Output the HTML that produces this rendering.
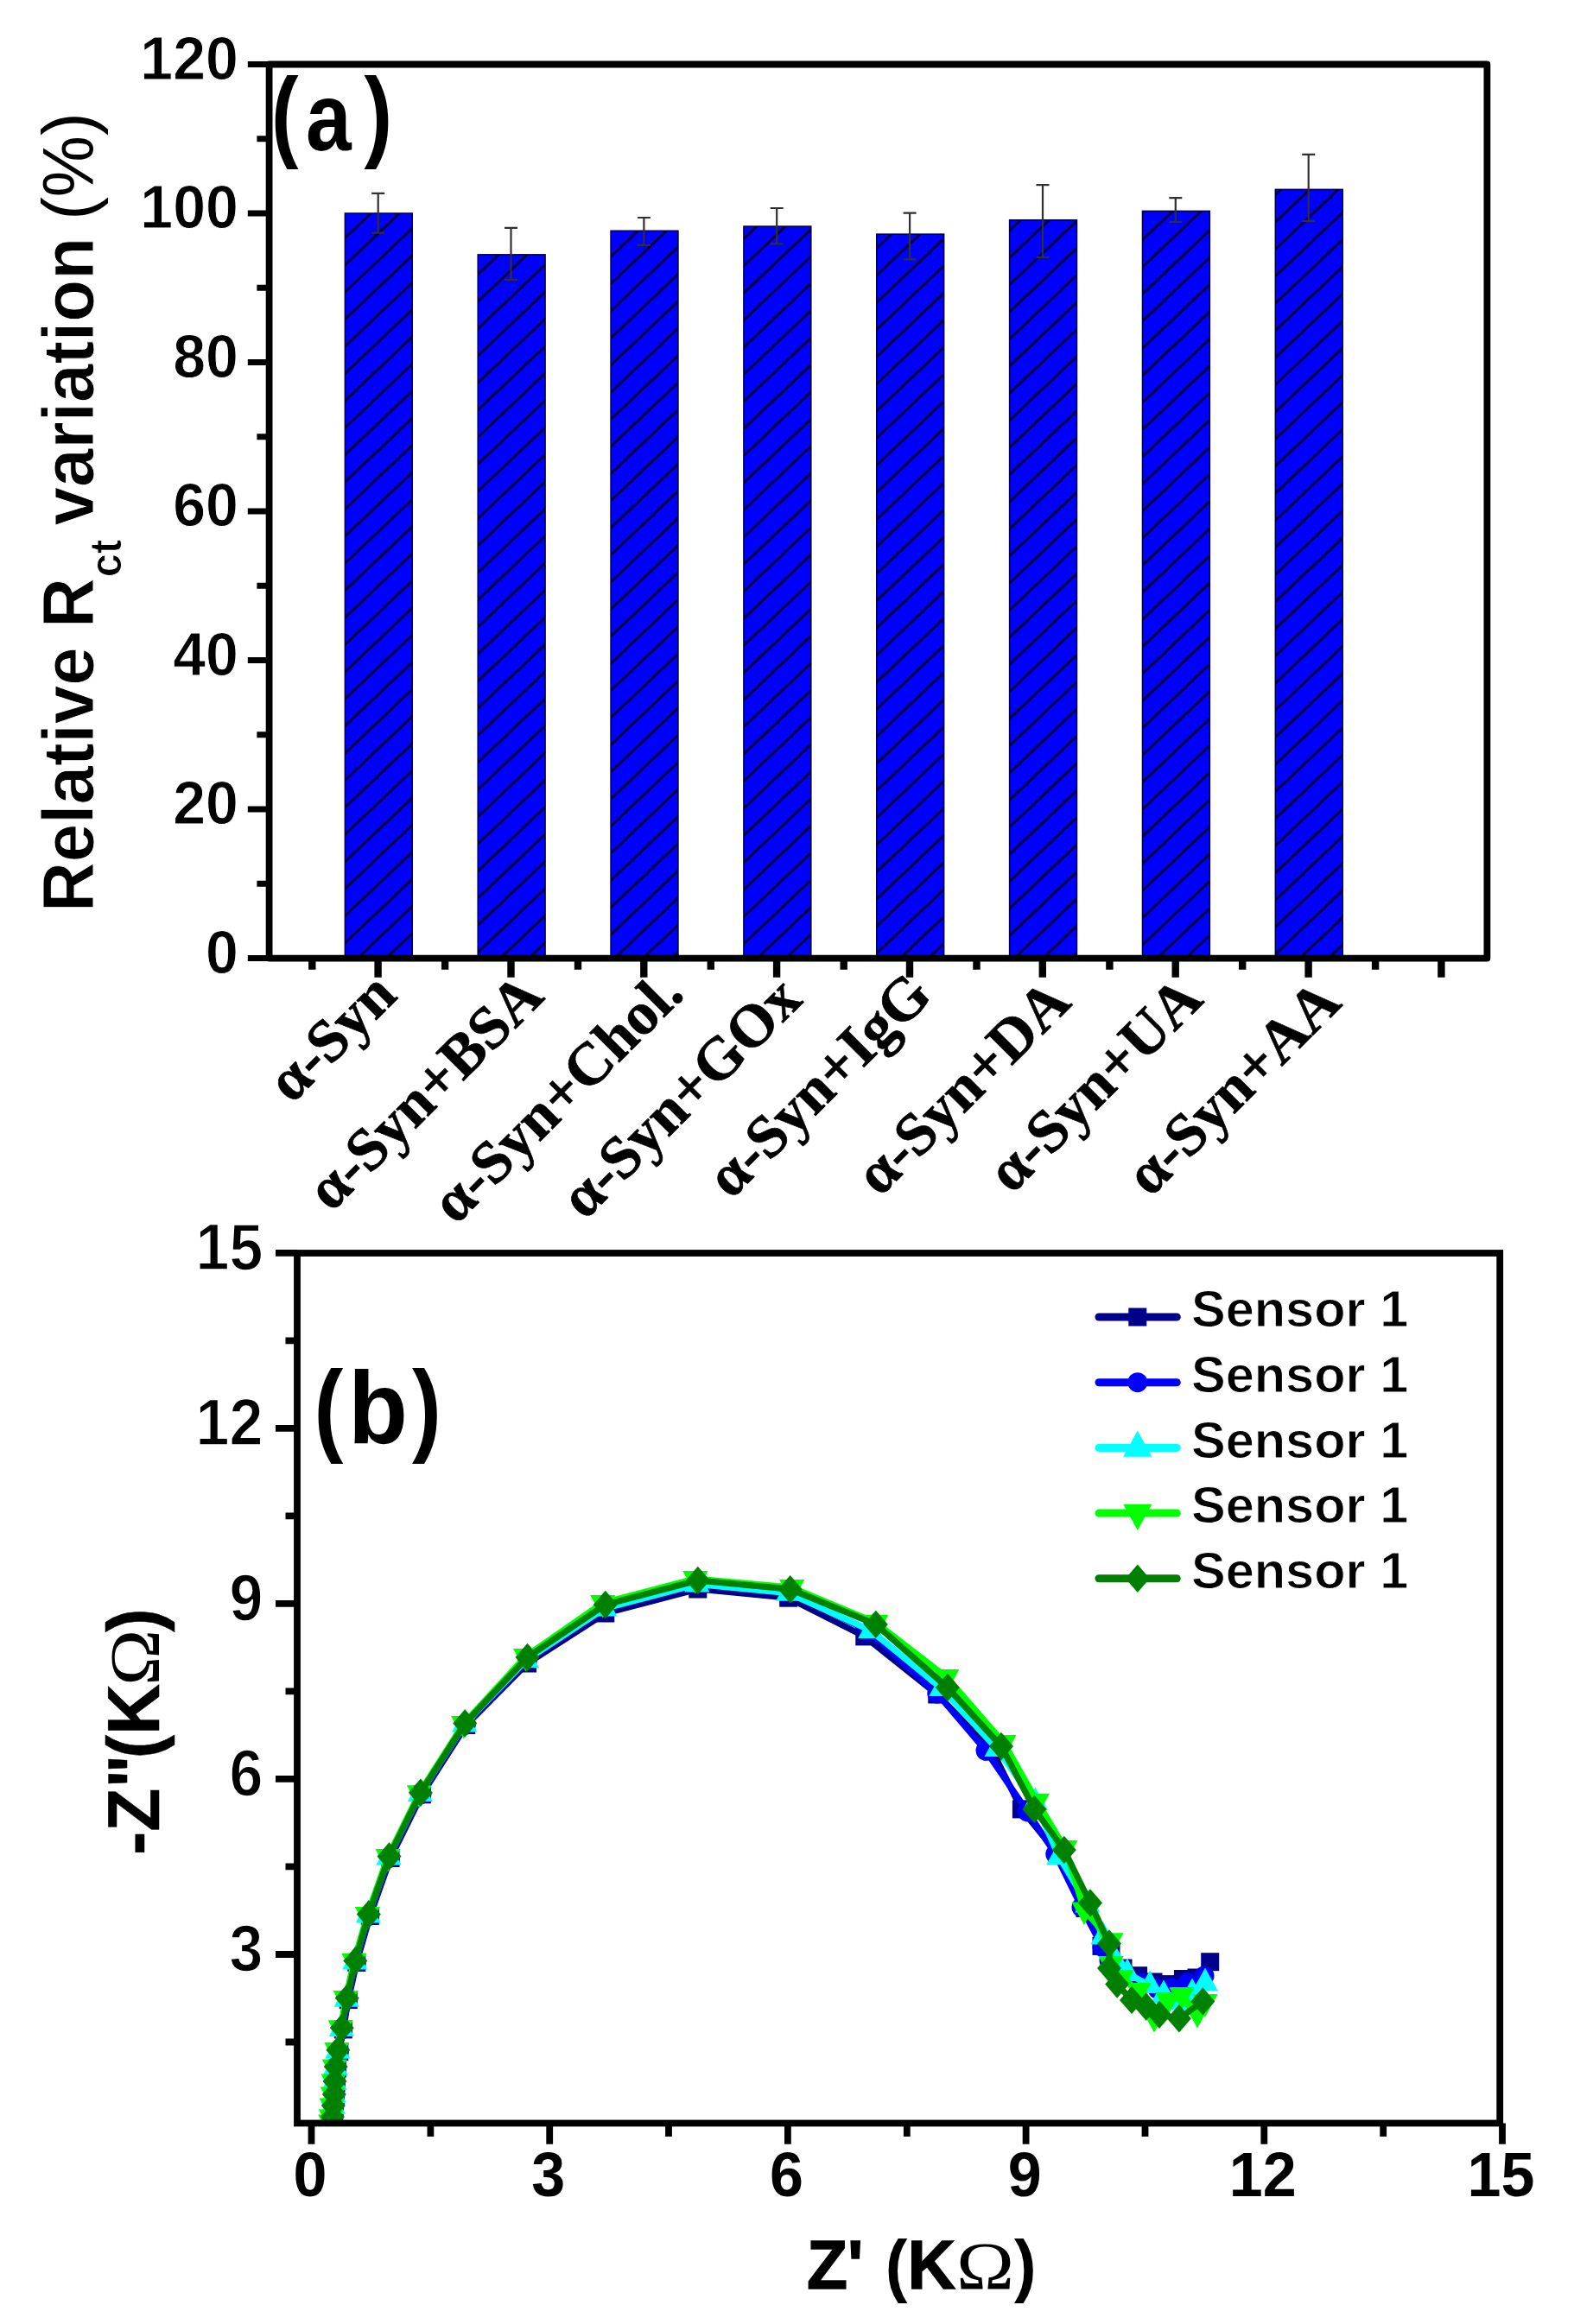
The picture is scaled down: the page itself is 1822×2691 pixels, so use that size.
<!DOCTYPE html>
<html lang="en">
<head>
<meta charset="utf-8">
<title>Figure</title>
<style>
html,body{margin:0;padding:0;background:#fff;}
body{width:1822px;height:2691px;overflow:hidden;}
svg{display:block;}
text{fill:#000;}
</style>
</head>
<body>
<svg width="1822" height="2691" viewBox="0 0 1822 2691">
<rect width="1822" height="2691" fill="#fff"/>
<g id="chartA">
<defs>
<clipPath id="cb0"><rect x="399.40" y="247.02" width="77.80" height="862.58"/></clipPath>
<clipPath id="cb1"><rect x="553.25" y="294.89" width="77.80" height="814.71"/></clipPath>
<clipPath id="cb2"><rect x="707.10" y="267.29" width="77.80" height="842.31"/></clipPath>
<clipPath id="cb3"><rect x="860.95" y="262.11" width="77.80" height="847.49"/></clipPath>
<clipPath id="cb4"><rect x="1014.80" y="271.17" width="77.80" height="838.43"/></clipPath>
<clipPath id="cb5"><rect x="1168.65" y="254.78" width="77.80" height="854.82"/></clipPath>
<clipPath id="cb6"><rect x="1322.50" y="244.43" width="77.80" height="865.17"/></clipPath>
<clipPath id="cb7"><rect x="1476.35" y="219.41" width="77.80" height="890.19"/></clipPath>
</defs>
<rect x="399.40" y="247.02" width="77.80" height="862.58" fill="#0000ff"/>
<g clip-path="url(#cb0)" stroke="#00003c" stroke-width="3" fill="none">
<path d="M394.4 217.3L482.2 133.9"/>
<path d="M394.4 248.7L482.2 165.3"/>
<path d="M394.4 280.1L482.2 196.7"/>
<path d="M394.4 311.5L482.2 228.1"/>
<path d="M394.4 342.9L482.2 259.5"/>
<path d="M394.4 374.3L482.2 290.9"/>
<path d="M394.4 405.7L482.2 322.3"/>
<path d="M394.4 437.1L482.2 353.7"/>
<path d="M394.4 468.5L482.2 385.1"/>
<path d="M394.4 499.9L482.2 416.5"/>
<path d="M394.4 531.3L482.2 447.9"/>
<path d="M394.4 562.7L482.2 479.3"/>
<path d="M394.4 594.1L482.2 510.7"/>
<path d="M394.4 625.5L482.2 542.1"/>
<path d="M394.4 656.9L482.2 573.5"/>
<path d="M394.4 688.3L482.2 604.9"/>
<path d="M394.4 719.7L482.2 636.3"/>
<path d="M394.4 751.1L482.2 667.7"/>
<path d="M394.4 782.5L482.2 699.1"/>
<path d="M394.4 813.9L482.2 730.5"/>
<path d="M394.4 845.3L482.2 761.9"/>
<path d="M394.4 876.7L482.2 793.3"/>
<path d="M394.4 908.1L482.2 824.7"/>
<path d="M394.4 939.5L482.2 856.1"/>
<path d="M394.4 970.9L482.2 887.5"/>
<path d="M394.4 1002.3L482.2 918.9"/>
<path d="M394.4 1033.7L482.2 950.3"/>
<path d="M394.4 1065.1L482.2 981.7"/>
<path d="M394.4 1096.5L482.2 1013.1"/>
<path d="M394.4 1127.9L482.2 1044.5"/>
<path d="M394.4 1159.3L482.2 1075.9"/>
<path d="M394.4 1190.7L482.2 1107.3"/>
<path d="M394.4 1222.1L482.2 1138.7"/>
</g>
<rect x="399.40" y="247.02" width="77.80" height="862.58" fill="none" stroke="#000048" stroke-width="1.6"/>
<rect x="553.25" y="294.89" width="77.80" height="814.71" fill="#0000ff"/>
<g clip-path="url(#cb1)" stroke="#00003c" stroke-width="3" fill="none">
<path d="M548.2 102.6L636.0 19.1"/>
<path d="M548.2 134.0L636.0 50.5"/>
<path d="M548.2 165.4L636.0 81.9"/>
<path d="M548.2 196.8L636.0 113.3"/>
<path d="M548.2 228.2L636.0 144.7"/>
<path d="M548.2 259.6L636.0 176.1"/>
<path d="M548.2 291.0L636.0 207.5"/>
<path d="M548.2 322.4L636.0 238.9"/>
<path d="M548.2 353.8L636.0 270.3"/>
<path d="M548.2 385.2L636.0 301.7"/>
<path d="M548.2 416.6L636.0 333.1"/>
<path d="M548.2 448.0L636.0 364.5"/>
<path d="M548.2 479.4L636.0 395.9"/>
<path d="M548.2 510.8L636.0 427.3"/>
<path d="M548.2 542.2L636.0 458.7"/>
<path d="M548.2 573.6L636.0 490.1"/>
<path d="M548.2 605.0L636.0 521.5"/>
<path d="M548.2 636.4L636.0 552.9"/>
<path d="M548.2 667.8L636.0 584.3"/>
<path d="M548.2 699.2L636.0 615.7"/>
<path d="M548.2 730.6L636.0 647.1"/>
<path d="M548.2 762.0L636.0 678.5"/>
<path d="M548.2 793.4L636.0 709.9"/>
<path d="M548.2 824.8L636.0 741.3"/>
<path d="M548.2 856.2L636.0 772.7"/>
<path d="M548.2 887.6L636.0 804.1"/>
<path d="M548.2 919.0L636.0 835.5"/>
<path d="M548.2 950.4L636.0 866.9"/>
<path d="M548.2 981.8L636.0 898.3"/>
<path d="M548.2 1013.2L636.0 929.7"/>
<path d="M548.2 1044.6L636.0 961.1"/>
<path d="M548.2 1076.0L636.0 992.5"/>
<path d="M548.2 1107.4L636.0 1023.9"/>
<path d="M548.2 1138.8L636.0 1055.3"/>
<path d="M548.2 1170.2L636.0 1086.7"/>
<path d="M548.2 1201.6L636.0 1118.1"/>
<path d="M548.2 1233.0L636.0 1149.5"/>
</g>
<rect x="553.25" y="294.89" width="77.80" height="814.71" fill="none" stroke="#000048" stroke-width="1.6"/>
<rect x="707.10" y="267.29" width="77.80" height="842.31" fill="#0000ff"/>
<g clip-path="url(#cb2)" stroke="#00003c" stroke-width="3" fill="none">
<path d="M702.1 -75.0L789.9 -158.4"/>
<path d="M702.1 -43.6L789.9 -127.0"/>
<path d="M702.1 -12.2L789.9 -95.6"/>
<path d="M702.1 19.2L789.9 -64.2"/>
<path d="M702.1 50.6L789.9 -32.8"/>
<path d="M702.1 82.0L789.9 -1.4"/>
<path d="M702.1 113.4L789.9 30.0"/>
<path d="M702.1 144.8L789.9 61.4"/>
<path d="M702.1 176.2L789.9 92.8"/>
<path d="M702.1 207.6L789.9 124.2"/>
<path d="M702.1 239.0L789.9 155.6"/>
<path d="M702.1 270.4L789.9 187.0"/>
<path d="M702.1 301.8L789.9 218.4"/>
<path d="M702.1 333.2L789.9 249.8"/>
<path d="M702.1 364.6L789.9 281.2"/>
<path d="M702.1 396.0L789.9 312.6"/>
<path d="M702.1 427.4L789.9 344.0"/>
<path d="M702.1 458.8L789.9 375.4"/>
<path d="M702.1 490.2L789.9 406.8"/>
<path d="M702.1 521.6L789.9 438.2"/>
<path d="M702.1 553.0L789.9 469.6"/>
<path d="M702.1 584.4L789.9 501.0"/>
<path d="M702.1 615.8L789.9 532.4"/>
<path d="M702.1 647.2L789.9 563.8"/>
<path d="M702.1 678.6L789.9 595.2"/>
<path d="M702.1 710.0L789.9 626.6"/>
<path d="M702.1 741.4L789.9 658.0"/>
<path d="M702.1 772.8L789.9 689.4"/>
<path d="M702.1 804.2L789.9 720.8"/>
<path d="M702.1 835.6L789.9 752.2"/>
<path d="M702.1 867.0L789.9 783.6"/>
<path d="M702.1 898.4L789.9 815.0"/>
<path d="M702.1 929.8L789.9 846.4"/>
<path d="M702.1 961.2L789.9 877.8"/>
<path d="M702.1 992.6L789.9 909.2"/>
<path d="M702.1 1024.0L789.9 940.6"/>
<path d="M702.1 1055.4L789.9 972.0"/>
<path d="M702.1 1086.8L789.9 1003.4"/>
<path d="M702.1 1118.2L789.9 1034.8"/>
<path d="M702.1 1149.6L789.9 1066.2"/>
<path d="M702.1 1181.0L789.9 1097.6"/>
<path d="M702.1 1212.4L789.9 1129.0"/>
<path d="M702.1 1243.8L789.9 1160.4"/>
</g>
<rect x="707.10" y="267.29" width="77.80" height="842.31" fill="none" stroke="#000048" stroke-width="1.6"/>
<rect x="860.95" y="262.11" width="77.80" height="847.49" fill="#0000ff"/>
<g clip-path="url(#cb3)" stroke="#00003c" stroke-width="3" fill="none">
<path d="M855.9 -221.2L943.7 -304.6"/>
<path d="M855.9 -189.8L943.7 -273.2"/>
<path d="M855.9 -158.4L943.7 -241.8"/>
<path d="M855.9 -127.0L943.7 -210.4"/>
<path d="M855.9 -95.6L943.7 -179.0"/>
<path d="M855.9 -64.2L943.7 -147.6"/>
<path d="M855.9 -32.8L943.7 -116.2"/>
<path d="M855.9 -1.4L943.7 -84.8"/>
<path d="M855.9 30.0L943.7 -53.4"/>
<path d="M855.9 61.4L943.7 -22.0"/>
<path d="M855.9 92.8L943.7 9.4"/>
<path d="M855.9 124.2L943.7 40.8"/>
<path d="M855.9 155.6L943.7 72.2"/>
<path d="M855.9 187.0L943.7 103.6"/>
<path d="M855.9 218.4L943.7 135.0"/>
<path d="M855.9 249.8L943.7 166.4"/>
<path d="M855.9 281.2L943.7 197.8"/>
<path d="M855.9 312.6L943.7 229.2"/>
<path d="M855.9 344.0L943.7 260.6"/>
<path d="M855.9 375.4L943.7 292.0"/>
<path d="M855.9 406.8L943.7 323.4"/>
<path d="M855.9 438.2L943.7 354.8"/>
<path d="M855.9 469.6L943.7 386.2"/>
<path d="M855.9 501.0L943.7 417.6"/>
<path d="M855.9 532.4L943.7 449.0"/>
<path d="M855.9 563.8L943.7 480.4"/>
<path d="M855.9 595.2L943.7 511.8"/>
<path d="M855.9 626.6L943.7 543.2"/>
<path d="M855.9 658.0L943.7 574.6"/>
<path d="M855.9 689.4L943.7 606.0"/>
<path d="M855.9 720.8L943.7 637.4"/>
<path d="M855.9 752.2L943.7 668.8"/>
<path d="M855.9 783.6L943.7 700.2"/>
<path d="M855.9 815.0L943.7 731.6"/>
<path d="M855.9 846.4L943.7 763.0"/>
<path d="M855.9 877.8L943.7 794.4"/>
<path d="M855.9 909.2L943.7 825.8"/>
<path d="M855.9 940.6L943.7 857.2"/>
<path d="M855.9 972.0L943.7 888.6"/>
<path d="M855.9 1003.4L943.7 920.0"/>
<path d="M855.9 1034.8L943.7 951.4"/>
<path d="M855.9 1066.2L943.7 982.8"/>
<path d="M855.9 1097.6L943.7 1014.2"/>
<path d="M855.9 1129.0L943.7 1045.6"/>
<path d="M855.9 1160.4L943.7 1077.0"/>
<path d="M855.9 1191.8L943.7 1108.4"/>
<path d="M855.9 1223.2L943.7 1139.8"/>
</g>
<rect x="860.95" y="262.11" width="77.80" height="847.49" fill="none" stroke="#000048" stroke-width="1.6"/>
<rect x="1014.80" y="271.17" width="77.80" height="838.43" fill="#0000ff"/>
<g clip-path="url(#cb4)" stroke="#00003c" stroke-width="3" fill="none">
<path d="M1009.8 -367.3L1097.6 -450.7"/>
<path d="M1009.8 -335.9L1097.6 -419.3"/>
<path d="M1009.8 -304.5L1097.6 -387.9"/>
<path d="M1009.8 -273.1L1097.6 -356.5"/>
<path d="M1009.8 -241.7L1097.6 -325.1"/>
<path d="M1009.8 -210.3L1097.6 -293.7"/>
<path d="M1009.8 -178.9L1097.6 -262.3"/>
<path d="M1009.8 -147.5L1097.6 -230.9"/>
<path d="M1009.8 -116.1L1097.6 -199.5"/>
<path d="M1009.8 -84.7L1097.6 -168.1"/>
<path d="M1009.8 -53.3L1097.6 -136.7"/>
<path d="M1009.8 -21.9L1097.6 -105.3"/>
<path d="M1009.8 9.5L1097.6 -73.9"/>
<path d="M1009.8 40.9L1097.6 -42.5"/>
<path d="M1009.8 72.3L1097.6 -11.1"/>
<path d="M1009.8 103.7L1097.6 20.3"/>
<path d="M1009.8 135.1L1097.6 51.7"/>
<path d="M1009.8 166.5L1097.6 83.1"/>
<path d="M1009.8 197.9L1097.6 114.5"/>
<path d="M1009.8 229.3L1097.6 145.9"/>
<path d="M1009.8 260.7L1097.6 177.3"/>
<path d="M1009.8 292.1L1097.6 208.7"/>
<path d="M1009.8 323.5L1097.6 240.1"/>
<path d="M1009.8 354.9L1097.6 271.5"/>
<path d="M1009.8 386.3L1097.6 302.9"/>
<path d="M1009.8 417.7L1097.6 334.3"/>
<path d="M1009.8 449.1L1097.6 365.7"/>
<path d="M1009.8 480.5L1097.6 397.1"/>
<path d="M1009.8 511.9L1097.6 428.5"/>
<path d="M1009.8 543.3L1097.6 459.9"/>
<path d="M1009.8 574.7L1097.6 491.3"/>
<path d="M1009.8 606.1L1097.6 522.7"/>
<path d="M1009.8 637.5L1097.6 554.1"/>
<path d="M1009.8 668.9L1097.6 585.5"/>
<path d="M1009.8 700.3L1097.6 616.9"/>
<path d="M1009.8 731.7L1097.6 648.3"/>
<path d="M1009.8 763.1L1097.6 679.7"/>
<path d="M1009.8 794.5L1097.6 711.1"/>
<path d="M1009.8 825.9L1097.6 742.5"/>
<path d="M1009.8 857.3L1097.6 773.9"/>
<path d="M1009.8 888.7L1097.6 805.3"/>
<path d="M1009.8 920.1L1097.6 836.7"/>
<path d="M1009.8 951.5L1097.6 868.1"/>
<path d="M1009.8 982.9L1097.6 899.5"/>
<path d="M1009.8 1014.3L1097.6 930.9"/>
<path d="M1009.8 1045.7L1097.6 962.3"/>
<path d="M1009.8 1077.1L1097.6 993.7"/>
<path d="M1009.8 1108.5L1097.6 1025.1"/>
<path d="M1009.8 1139.9L1097.6 1056.5"/>
<path d="M1009.8 1171.3L1097.6 1087.9"/>
<path d="M1009.8 1202.7L1097.6 1119.3"/>
<path d="M1009.8 1234.1L1097.6 1150.7"/>
</g>
<rect x="1014.80" y="271.17" width="77.80" height="838.43" fill="none" stroke="#000048" stroke-width="1.6"/>
<rect x="1168.65" y="254.78" width="77.80" height="854.82" fill="#0000ff"/>
<g clip-path="url(#cb5)" stroke="#00003c" stroke-width="3" fill="none">
<path d="M1163.7 -513.5L1251.5 -596.9"/>
<path d="M1163.7 -482.1L1251.5 -565.5"/>
<path d="M1163.7 -450.7L1251.5 -534.1"/>
<path d="M1163.7 -419.3L1251.5 -502.7"/>
<path d="M1163.7 -387.9L1251.5 -471.3"/>
<path d="M1163.7 -356.5L1251.5 -439.9"/>
<path d="M1163.7 -325.1L1251.5 -408.5"/>
<path d="M1163.7 -293.7L1251.5 -377.1"/>
<path d="M1163.7 -262.3L1251.5 -345.7"/>
<path d="M1163.7 -230.9L1251.5 -314.3"/>
<path d="M1163.7 -199.5L1251.5 -282.9"/>
<path d="M1163.7 -168.1L1251.5 -251.5"/>
<path d="M1163.7 -136.7L1251.5 -220.1"/>
<path d="M1163.7 -105.3L1251.5 -188.7"/>
<path d="M1163.7 -73.9L1251.5 -157.3"/>
<path d="M1163.7 -42.5L1251.5 -125.9"/>
<path d="M1163.7 -11.1L1251.5 -94.5"/>
<path d="M1163.7 20.3L1251.5 -63.1"/>
<path d="M1163.7 51.7L1251.5 -31.7"/>
<path d="M1163.7 83.1L1251.5 -0.3"/>
<path d="M1163.7 114.5L1251.5 31.1"/>
<path d="M1163.7 145.9L1251.5 62.5"/>
<path d="M1163.7 177.3L1251.5 93.9"/>
<path d="M1163.7 208.7L1251.5 125.3"/>
<path d="M1163.7 240.1L1251.5 156.7"/>
<path d="M1163.7 271.5L1251.5 188.1"/>
<path d="M1163.7 302.9L1251.5 219.5"/>
<path d="M1163.7 334.3L1251.5 250.9"/>
<path d="M1163.7 365.7L1251.5 282.3"/>
<path d="M1163.7 397.1L1251.5 313.7"/>
<path d="M1163.7 428.5L1251.5 345.1"/>
<path d="M1163.7 459.9L1251.5 376.5"/>
<path d="M1163.7 491.3L1251.5 407.9"/>
<path d="M1163.7 522.7L1251.5 439.3"/>
<path d="M1163.7 554.1L1251.5 470.7"/>
<path d="M1163.7 585.5L1251.5 502.1"/>
<path d="M1163.7 616.9L1251.5 533.5"/>
<path d="M1163.7 648.3L1251.5 564.9"/>
<path d="M1163.7 679.7L1251.5 596.3"/>
<path d="M1163.7 711.1L1251.5 627.7"/>
<path d="M1163.7 742.5L1251.5 659.1"/>
<path d="M1163.7 773.9L1251.5 690.5"/>
<path d="M1163.7 805.3L1251.5 721.9"/>
<path d="M1163.7 836.7L1251.5 753.3"/>
<path d="M1163.7 868.1L1251.5 784.7"/>
<path d="M1163.7 899.5L1251.5 816.1"/>
<path d="M1163.7 930.9L1251.5 847.5"/>
<path d="M1163.7 962.3L1251.5 878.9"/>
<path d="M1163.7 993.7L1251.5 910.3"/>
<path d="M1163.7 1025.1L1251.5 941.7"/>
<path d="M1163.7 1056.5L1251.5 973.1"/>
<path d="M1163.7 1087.9L1251.5 1004.5"/>
<path d="M1163.7 1119.3L1251.5 1035.9"/>
<path d="M1163.7 1150.7L1251.5 1067.3"/>
<path d="M1163.7 1182.1L1251.5 1098.7"/>
<path d="M1163.7 1213.5L1251.5 1130.1"/>
<path d="M1163.7 1244.9L1251.5 1161.5"/>
</g>
<rect x="1168.65" y="254.78" width="77.80" height="854.82" fill="none" stroke="#000048" stroke-width="1.6"/>
<rect x="1322.50" y="244.43" width="77.80" height="865.17" fill="#0000ff"/>
<g clip-path="url(#cb6)" stroke="#00003c" stroke-width="3" fill="none">
<path d="M1317.5 -691.0L1405.3 -774.4"/>
<path d="M1317.5 -659.6L1405.3 -743.0"/>
<path d="M1317.5 -628.2L1405.3 -711.6"/>
<path d="M1317.5 -596.8L1405.3 -680.2"/>
<path d="M1317.5 -565.4L1405.3 -648.8"/>
<path d="M1317.5 -534.0L1405.3 -617.4"/>
<path d="M1317.5 -502.6L1405.3 -586.0"/>
<path d="M1317.5 -471.2L1405.3 -554.6"/>
<path d="M1317.5 -439.8L1405.3 -523.2"/>
<path d="M1317.5 -408.4L1405.3 -491.8"/>
<path d="M1317.5 -377.0L1405.3 -460.4"/>
<path d="M1317.5 -345.6L1405.3 -429.0"/>
<path d="M1317.5 -314.2L1405.3 -397.6"/>
<path d="M1317.5 -282.8L1405.3 -366.2"/>
<path d="M1317.5 -251.4L1405.3 -334.8"/>
<path d="M1317.5 -220.0L1405.3 -303.4"/>
<path d="M1317.5 -188.6L1405.3 -272.0"/>
<path d="M1317.5 -157.2L1405.3 -240.6"/>
<path d="M1317.5 -125.8L1405.3 -209.2"/>
<path d="M1317.5 -94.4L1405.3 -177.8"/>
<path d="M1317.5 -63.0L1405.3 -146.4"/>
<path d="M1317.5 -31.6L1405.3 -115.0"/>
<path d="M1317.5 -0.2L1405.3 -83.6"/>
<path d="M1317.5 31.2L1405.3 -52.2"/>
<path d="M1317.5 62.6L1405.3 -20.8"/>
<path d="M1317.5 94.0L1405.3 10.6"/>
<path d="M1317.5 125.4L1405.3 42.0"/>
<path d="M1317.5 156.8L1405.3 73.4"/>
<path d="M1317.5 188.2L1405.3 104.8"/>
<path d="M1317.5 219.6L1405.3 136.2"/>
<path d="M1317.5 251.0L1405.3 167.6"/>
<path d="M1317.5 282.4L1405.3 199.0"/>
<path d="M1317.5 313.8L1405.3 230.4"/>
<path d="M1317.5 345.2L1405.3 261.8"/>
<path d="M1317.5 376.6L1405.3 293.2"/>
<path d="M1317.5 408.0L1405.3 324.6"/>
<path d="M1317.5 439.4L1405.3 356.0"/>
<path d="M1317.5 470.8L1405.3 387.4"/>
<path d="M1317.5 502.2L1405.3 418.8"/>
<path d="M1317.5 533.6L1405.3 450.2"/>
<path d="M1317.5 565.0L1405.3 481.6"/>
<path d="M1317.5 596.4L1405.3 513.0"/>
<path d="M1317.5 627.8L1405.3 544.4"/>
<path d="M1317.5 659.2L1405.3 575.8"/>
<path d="M1317.5 690.6L1405.3 607.2"/>
<path d="M1317.5 722.0L1405.3 638.6"/>
<path d="M1317.5 753.4L1405.3 670.0"/>
<path d="M1317.5 784.8L1405.3 701.4"/>
<path d="M1317.5 816.2L1405.3 732.8"/>
<path d="M1317.5 847.6L1405.3 764.2"/>
<path d="M1317.5 879.0L1405.3 795.6"/>
<path d="M1317.5 910.4L1405.3 827.0"/>
<path d="M1317.5 941.8L1405.3 858.4"/>
<path d="M1317.5 973.2L1405.3 889.8"/>
<path d="M1317.5 1004.6L1405.3 921.2"/>
<path d="M1317.5 1036.0L1405.3 952.6"/>
<path d="M1317.5 1067.4L1405.3 984.0"/>
<path d="M1317.5 1098.8L1405.3 1015.4"/>
<path d="M1317.5 1130.2L1405.3 1046.8"/>
<path d="M1317.5 1161.6L1405.3 1078.2"/>
<path d="M1317.5 1193.0L1405.3 1109.6"/>
<path d="M1317.5 1224.4L1405.3 1141.0"/>
</g>
<rect x="1322.50" y="244.43" width="77.80" height="865.17" fill="none" stroke="#000048" stroke-width="1.6"/>
<rect x="1476.35" y="219.41" width="77.80" height="890.19" fill="#0000ff"/>
<g clip-path="url(#cb7)" stroke="#00003c" stroke-width="3" fill="none">
<path d="M1471.3 -837.2L1559.1 -920.6"/>
<path d="M1471.3 -805.8L1559.1 -889.2"/>
<path d="M1471.3 -774.4L1559.1 -857.8"/>
<path d="M1471.3 -743.0L1559.1 -826.4"/>
<path d="M1471.3 -711.6L1559.1 -795.0"/>
<path d="M1471.3 -680.2L1559.1 -763.6"/>
<path d="M1471.3 -648.8L1559.1 -732.2"/>
<path d="M1471.3 -617.4L1559.1 -700.8"/>
<path d="M1471.3 -586.0L1559.1 -669.4"/>
<path d="M1471.3 -554.6L1559.1 -638.0"/>
<path d="M1471.3 -523.2L1559.1 -606.6"/>
<path d="M1471.3 -491.8L1559.1 -575.2"/>
<path d="M1471.3 -460.4L1559.1 -543.8"/>
<path d="M1471.3 -429.0L1559.1 -512.4"/>
<path d="M1471.3 -397.6L1559.1 -481.0"/>
<path d="M1471.3 -366.2L1559.1 -449.6"/>
<path d="M1471.3 -334.8L1559.1 -418.2"/>
<path d="M1471.3 -303.4L1559.1 -386.8"/>
<path d="M1471.3 -272.0L1559.1 -355.4"/>
<path d="M1471.3 -240.6L1559.1 -324.0"/>
<path d="M1471.3 -209.2L1559.1 -292.6"/>
<path d="M1471.3 -177.8L1559.1 -261.2"/>
<path d="M1471.3 -146.4L1559.1 -229.8"/>
<path d="M1471.3 -115.0L1559.1 -198.4"/>
<path d="M1471.3 -83.6L1559.1 -167.0"/>
<path d="M1471.3 -52.2L1559.1 -135.6"/>
<path d="M1471.3 -20.8L1559.1 -104.2"/>
<path d="M1471.3 10.6L1559.1 -72.8"/>
<path d="M1471.3 42.0L1559.1 -41.4"/>
<path d="M1471.3 73.4L1559.1 -10.0"/>
<path d="M1471.3 104.8L1559.1 21.4"/>
<path d="M1471.3 136.2L1559.1 52.8"/>
<path d="M1471.3 167.6L1559.1 84.2"/>
<path d="M1471.3 199.0L1559.1 115.6"/>
<path d="M1471.3 230.4L1559.1 147.0"/>
<path d="M1471.3 261.8L1559.1 178.4"/>
<path d="M1471.3 293.2L1559.1 209.8"/>
<path d="M1471.3 324.6L1559.1 241.2"/>
<path d="M1471.3 356.0L1559.1 272.6"/>
<path d="M1471.3 387.4L1559.1 304.0"/>
<path d="M1471.3 418.8L1559.1 335.4"/>
<path d="M1471.3 450.2L1559.1 366.8"/>
<path d="M1471.3 481.6L1559.1 398.2"/>
<path d="M1471.3 513.0L1559.1 429.6"/>
<path d="M1471.3 544.4L1559.1 461.0"/>
<path d="M1471.3 575.8L1559.1 492.4"/>
<path d="M1471.3 607.2L1559.1 523.8"/>
<path d="M1471.3 638.6L1559.1 555.2"/>
<path d="M1471.3 670.0L1559.1 586.6"/>
<path d="M1471.3 701.4L1559.1 618.0"/>
<path d="M1471.3 732.8L1559.1 649.4"/>
<path d="M1471.3 764.2L1559.1 680.8"/>
<path d="M1471.3 795.6L1559.1 712.2"/>
<path d="M1471.3 827.0L1559.1 743.6"/>
<path d="M1471.3 858.4L1559.1 775.0"/>
<path d="M1471.3 889.8L1559.1 806.4"/>
<path d="M1471.3 921.2L1559.1 837.8"/>
<path d="M1471.3 952.6L1559.1 869.2"/>
<path d="M1471.3 984.0L1559.1 900.6"/>
<path d="M1471.3 1015.4L1559.1 932.0"/>
<path d="M1471.3 1046.8L1559.1 963.4"/>
<path d="M1471.3 1078.2L1559.1 994.8"/>
<path d="M1471.3 1109.6L1559.1 1026.2"/>
<path d="M1471.3 1141.0L1559.1 1057.6"/>
<path d="M1471.3 1172.4L1559.1 1089.0"/>
<path d="M1471.3 1203.8L1559.1 1120.4"/>
<path d="M1471.3 1235.2L1559.1 1151.8"/>
</g>
<rect x="1476.35" y="219.41" width="77.80" height="890.19" fill="none" stroke="#000048" stroke-width="1.6"/>
<path d="M437.7 223.8V269.6M430.2 223.8H445.2M430.2 269.6H445.2" stroke="#303030" stroke-width="2.2" fill="none"/>
<path d="M591.5 263.8V323.9M584.0 263.8H599.0M584.0 323.9H599.0" stroke="#303030" stroke-width="2.2" fill="none"/>
<path d="M745.4 252.0V283.9M737.9 252.0H752.9M737.9 283.9H752.9" stroke="#303030" stroke-width="2.2" fill="none"/>
<path d="M899.2 241.0V282.3M891.7 241.0H906.7M891.7 282.3H906.7" stroke="#303030" stroke-width="2.2" fill="none"/>
<path d="M1053.1 246.6V300.4M1045.6 246.6H1060.6M1045.6 300.4H1060.6" stroke="#303030" stroke-width="2.2" fill="none"/>
<path d="M1207.0 214.1V298.0M1199.5 214.1H1214.5M1199.5 298.0H1214.5" stroke="#303030" stroke-width="2.2" fill="none"/>
<path d="M1360.8 229.2V257.0M1353.3 229.2H1368.3M1353.3 257.0H1368.3" stroke="#303030" stroke-width="2.2" fill="none"/>
<path d="M1514.7 178.8V255.8M1507.2 178.8H1522.2M1507.2 255.8H1522.2" stroke="#303030" stroke-width="2.2" fill="none"/>
<rect x="311.6" y="74.5" width="1409.8000000000002" height="1035.1" fill="none" stroke="#000" stroke-width="7.8" stroke-linejoin="round"/>
<path d="M286.8 1109.6H311.6M297.4 1023.3H311.6M286.8 937.1H311.6M297.4 850.8H311.6M286.8 764.6H311.6M297.4 678.3H311.6M286.8 592.0H311.6M297.4 505.8H311.6M286.8 419.5H311.6M297.4 333.3H311.6M286.8 247.0H311.6M297.4 160.8H311.6M286.8 74.5H311.6" stroke="#000" stroke-width="7" fill="none"/>
<path d="M361.3 1109.6V1122.8M437.6 1109.6V1131.8M515.1 1109.6V1122.8M591.5 1109.6V1131.8M669.0 1109.6V1122.8M745.3 1109.6V1131.8M822.8 1109.6V1122.8M899.1 1109.6V1131.8M976.7 1109.6V1122.8M1053.0 1109.6V1131.8M1130.5 1109.6V1122.8M1206.8 1109.6V1131.8M1284.4 1109.6V1122.8M1360.7 1109.6V1131.8M1438.2 1109.6V1122.8M1514.6 1109.6V1131.8M1592.1 1109.6V1122.8M1668.4 1109.6V1131.8" stroke="#000" stroke-width="8.4" fill="none"/>
<text transform="translate(275.8 1126.9) scale(1 1.04)" text-anchor="end" font-family='"Liberation Sans", Arial, Helvetica, sans-serif' font-weight="700" font-size="68" stroke="#fff" stroke-width="0.9">0</text>
<text transform="translate(275.8 954.4) scale(1 1.04)" text-anchor="end" font-family='"Liberation Sans", Arial, Helvetica, sans-serif' font-weight="700" font-size="68" stroke="#fff" stroke-width="0.9">20</text>
<text transform="translate(275.8 781.9) scale(1 1.04)" text-anchor="end" font-family='"Liberation Sans", Arial, Helvetica, sans-serif' font-weight="700" font-size="68" stroke="#fff" stroke-width="0.9">40</text>
<text transform="translate(275.8 609.3) scale(1 1.04)" text-anchor="end" font-family='"Liberation Sans", Arial, Helvetica, sans-serif' font-weight="700" font-size="68" stroke="#fff" stroke-width="0.9">60</text>
<text transform="translate(275.8 436.8) scale(1 1.04)" text-anchor="end" font-family='"Liberation Sans", Arial, Helvetica, sans-serif' font-weight="700" font-size="68" stroke="#fff" stroke-width="0.9">80</text>
<text transform="translate(275.8 264.3) scale(1 1.04)" text-anchor="end" font-family='"Liberation Sans", Arial, Helvetica, sans-serif' font-weight="700" font-size="68" stroke="#fff" stroke-width="0.9">100</text>
<text transform="translate(275.8 91.8) scale(1 1.04)" text-anchor="end" font-family='"Liberation Sans", Arial, Helvetica, sans-serif' font-weight="700" font-size="68" stroke="#fff" stroke-width="0.9">120</text>
<text transform="translate(108.0 1056.0) rotate(-90) scale(1 1.04)" text-anchor="start" font-family='"Liberation Sans", Arial, Helvetica, sans-serif' font-weight="700" font-size="80" stroke="#fff" stroke-width="0.9">Relative R<tspan font-size="49" dy="31" dx="1">ct</tspan><tspan dy="-31" dx="-6"> variation </tspan><tspan font-weight="400" dx="-2" stroke="none">(%)</tspan></text>
<g font-family='"Liberation Sans", Arial, Helvetica, sans-serif' font-weight="700"><text transform="translate(313.9 172) scale(0.81 1)" font-size="117">(</text><text transform="translate(354 174.2) scale(0.846 1)" font-size="112">a</text><text transform="translate(421.5 172) scale(0.84 1)" font-size="117">)</text></g>
<text transform="translate(461.7 1155.0) rotate(-45)" text-anchor="end" font-family='"Liberation Serif", "Times New Roman", Times, serif' font-weight="700" font-size="70" stroke="#000" stroke-width="0.7">α-Syn</text>
<text transform="translate(632.0 1156.2) rotate(-45)" text-anchor="end" font-family='"Liberation Serif", "Times New Roman", Times, serif' font-weight="700" font-size="70" stroke="#000" stroke-width="0.7">α-Syn+BSA</text>
<text transform="translate(794.0 1153.0) rotate(-45)" text-anchor="end" font-family='"Liberation Serif", "Times New Roman", Times, serif' font-weight="700" font-size="70" stroke="#000" stroke-width="0.7">α-Syn+Chol.</text>
<text transform="translate(930.8 1160.0) rotate(-45)" text-anchor="end" font-family='"Liberation Serif", "Times New Roman", Times, serif' font-weight="700" font-size="70" stroke="#000" stroke-width="0.7">α-Syn+GOx</text>
<text transform="translate(1081.0 1155.0) rotate(-45)" text-anchor="end" font-family='"Liberation Serif", "Times New Roman", Times, serif' font-weight="700" font-size="70" stroke="#000" stroke-width="0.7">α-Syn+IgG</text>
<text transform="translate(1242.2 1163.2) rotate(-45)" text-anchor="end" font-family='"Liberation Serif", "Times New Roman", Times, serif' font-weight="700" font-size="70" stroke="#000" stroke-width="0.7">α-Syn+DA</text>
<text transform="translate(1394.9 1159.9) rotate(-45)" text-anchor="end" font-family='"Liberation Serif", "Times New Roman", Times, serif' font-weight="700" font-size="70" stroke="#000" stroke-width="0.7">α-Syn+UA</text>
<text transform="translate(1555.0 1163.7) rotate(-45)" text-anchor="end" font-family='"Liberation Serif", "Times New Roman", Times, serif' font-weight="700" font-size="70" stroke="#000" stroke-width="0.7">α-Syn+AA</text>
</g>
<g id="chartB">
<defs><clipPath id="cpb"><rect x="344.0" y="1451.0" width="1392.2" height="1010.5"/></clipPath></defs>
<g clip-path="url(#cpb)">
<path d="M385.7 2459.0L386.4 2453.0L387.3 2440.0L388.3 2427.0L389.0 2412.0L390.2 2395.0L392.8 2375.7L397.3 2349.9L403.2 2315.6L412.8 2272.4L428.3 2218.5L452.0 2151.5L488.4 2077.8L539.7 1997.5L610.5 1926.0L700.8 1868.0L807.8 1840.0L912.7 1850.2L1000.8 1894.9L1084.8 1962.0L1149.0 2028.0L1182.4 2094.9L1223.8 2146.0L1256.0 2209.5L1275.0 2253.4L1286.0 2262.0L1300.0 2279.0L1317.6 2287.7L1335.0 2295.0L1351.0 2297.6L1369.4 2291.5L1385.0 2290.0L1400.7 2271.7" fill="none" stroke="#00008b" stroke-width="7.2" stroke-linejoin="round"/>
<rect x="375.2" y="2448.5" width="21.0" height="21.0" fill="#00008b"/>
<rect x="375.9" y="2442.5" width="21.0" height="21.0" fill="#00008b"/>
<rect x="376.8" y="2429.5" width="21.0" height="21.0" fill="#00008b"/>
<rect x="377.8" y="2416.5" width="21.0" height="21.0" fill="#00008b"/>
<rect x="378.5" y="2401.5" width="21.0" height="21.0" fill="#00008b"/>
<rect x="379.7" y="2384.5" width="21.0" height="21.0" fill="#00008b"/>
<rect x="382.3" y="2365.2" width="21.0" height="21.0" fill="#00008b"/>
<rect x="386.8" y="2339.4" width="21.0" height="21.0" fill="#00008b"/>
<rect x="392.7" y="2305.1" width="21.0" height="21.0" fill="#00008b"/>
<rect x="402.3" y="2261.9" width="21.0" height="21.0" fill="#00008b"/>
<rect x="417.8" y="2208.0" width="21.0" height="21.0" fill="#00008b"/>
<rect x="441.5" y="2141.0" width="21.0" height="21.0" fill="#00008b"/>
<rect x="477.9" y="2067.3" width="21.0" height="21.0" fill="#00008b"/>
<rect x="529.2" y="1987.0" width="21.0" height="21.0" fill="#00008b"/>
<rect x="600.0" y="1915.5" width="21.0" height="21.0" fill="#00008b"/>
<rect x="690.3" y="1857.5" width="21.0" height="21.0" fill="#00008b"/>
<rect x="797.3" y="1829.5" width="21.0" height="21.0" fill="#00008b"/>
<rect x="902.2" y="1839.7" width="21.0" height="21.0" fill="#00008b"/>
<rect x="990.3" y="1884.4" width="21.0" height="21.0" fill="#00008b"/>
<rect x="1074.3" y="1951.5" width="21.0" height="21.0" fill="#00008b"/>
<rect x="1138.5" y="2017.5" width="21.0" height="21.0" fill="#00008b"/>
<rect x="1171.9" y="2084.4" width="21.0" height="21.0" fill="#00008b"/>
<rect x="1213.3" y="2135.5" width="21.0" height="21.0" fill="#00008b"/>
<rect x="1245.5" y="2199.0" width="21.0" height="21.0" fill="#00008b"/>
<rect x="1264.5" y="2242.9" width="21.0" height="21.0" fill="#00008b"/>
<rect x="1275.5" y="2251.5" width="21.0" height="21.0" fill="#00008b"/>
<rect x="1289.5" y="2268.5" width="21.0" height="21.0" fill="#00008b"/>
<rect x="1307.1" y="2277.2" width="21.0" height="21.0" fill="#00008b"/>
<rect x="1324.5" y="2284.5" width="21.0" height="21.0" fill="#00008b"/>
<rect x="1340.5" y="2287.1" width="21.0" height="21.0" fill="#00008b"/>
<rect x="1358.9" y="2281.0" width="21.0" height="21.0" fill="#00008b"/>
<rect x="1374.5" y="2279.5" width="21.0" height="21.0" fill="#00008b"/>
<rect x="1390.2" y="2261.2" width="21.0" height="21.0" fill="#00008b"/>
<path d="M385.2 2458.5L385.9 2452.5L386.8 2439.5L387.8 2426.5L388.5 2411.5L389.7 2394.5L392.3 2375.2L396.8 2349.4L402.7 2315.1L412.3 2271.9L427.8 2218.0L451.5 2151.0L487.9 2077.3L539.2 1997.0L610.5 1922.0L700.8 1861.0L807.8 1833.0L913.7 1843.2L1005.8 1888.9L1084.8 1961.0L1141.0 2027.0L1189.4 2097.9L1221.8 2147.0L1252.0 2208.5L1276.0 2254.4L1284.0 2270.0L1298.0 2290.0L1320.0 2296.0L1340.0 2303.0L1356.0 2302.0L1375.0 2296.0L1394.0 2288.0" fill="none" stroke="#0000ff" stroke-width="7.2" stroke-linejoin="round"/>
<circle cx="385.2" cy="2458.5" r="11.5" fill="#0000ff"/>
<circle cx="385.9" cy="2452.5" r="11.5" fill="#0000ff"/>
<circle cx="386.8" cy="2439.5" r="11.5" fill="#0000ff"/>
<circle cx="387.8" cy="2426.5" r="11.5" fill="#0000ff"/>
<circle cx="388.5" cy="2411.5" r="11.5" fill="#0000ff"/>
<circle cx="389.7" cy="2394.5" r="11.5" fill="#0000ff"/>
<circle cx="392.3" cy="2375.2" r="11.5" fill="#0000ff"/>
<circle cx="396.8" cy="2349.4" r="11.5" fill="#0000ff"/>
<circle cx="402.7" cy="2315.1" r="11.5" fill="#0000ff"/>
<circle cx="412.3" cy="2271.9" r="11.5" fill="#0000ff"/>
<circle cx="427.8" cy="2218.0" r="11.5" fill="#0000ff"/>
<circle cx="451.5" cy="2151.0" r="11.5" fill="#0000ff"/>
<circle cx="487.9" cy="2077.3" r="11.5" fill="#0000ff"/>
<circle cx="539.2" cy="1997.0" r="11.5" fill="#0000ff"/>
<circle cx="610.5" cy="1922.0" r="11.5" fill="#0000ff"/>
<circle cx="700.8" cy="1861.0" r="11.5" fill="#0000ff"/>
<circle cx="807.8" cy="1833.0" r="11.5" fill="#0000ff"/>
<circle cx="913.7" cy="1843.2" r="11.5" fill="#0000ff"/>
<circle cx="1005.8" cy="1888.9" r="11.5" fill="#0000ff"/>
<circle cx="1084.8" cy="1961.0" r="11.5" fill="#0000ff"/>
<circle cx="1141.0" cy="2027.0" r="11.5" fill="#0000ff"/>
<circle cx="1189.4" cy="2097.9" r="11.5" fill="#0000ff"/>
<circle cx="1221.8" cy="2147.0" r="11.5" fill="#0000ff"/>
<circle cx="1252.0" cy="2208.5" r="11.5" fill="#0000ff"/>
<circle cx="1276.0" cy="2254.4" r="11.5" fill="#0000ff"/>
<circle cx="1284.0" cy="2270.0" r="11.5" fill="#0000ff"/>
<circle cx="1298.0" cy="2290.0" r="11.5" fill="#0000ff"/>
<circle cx="1320.0" cy="2296.0" r="11.5" fill="#0000ff"/>
<circle cx="1340.0" cy="2303.0" r="11.5" fill="#0000ff"/>
<circle cx="1356.0" cy="2302.0" r="11.5" fill="#0000ff"/>
<circle cx="1375.0" cy="2296.0" r="11.5" fill="#0000ff"/>
<circle cx="1394.0" cy="2288.0" r="11.5" fill="#0000ff"/>
<path d="M383.7 2458.0L384.4 2452.0L385.3 2439.0L386.3 2426.0L387.0 2411.0L388.2 2394.0L390.8 2374.7L395.3 2348.9L401.2 2314.6L410.8 2271.4L426.3 2217.5L450.0 2150.5L486.4 2076.8L537.7 1996.5L609.5 1922.0L699.8 1862.5L806.8 1834.5L912.7 1844.7L1007.8 1887.9L1089.8 1955.0L1154.0 2025.0L1198.4 2086.9L1225.8 2150.0L1259.0 2205.5L1277.0 2242.4L1290.0 2268.0L1305.0 2285.0L1331.0 2299.0L1347.0 2310.0L1362.0 2318.0L1380.0 2308.0L1395.0 2296.0" fill="none" stroke="#00ffff" stroke-width="7.2" stroke-linejoin="round"/>
<path d="M383.7 2440.6L398.3 2467.1H369.1Z" fill="#00ffff"/>
<path d="M384.4 2434.6L399.0 2461.1H369.8Z" fill="#00ffff"/>
<path d="M385.3 2421.6L399.9 2448.1H370.7Z" fill="#00ffff"/>
<path d="M386.3 2408.6L400.9 2435.1H371.7Z" fill="#00ffff"/>
<path d="M387.0 2393.6L401.6 2420.1H372.4Z" fill="#00ffff"/>
<path d="M388.2 2376.6L402.8 2403.1H373.6Z" fill="#00ffff"/>
<path d="M390.8 2357.3L405.4 2383.8H376.2Z" fill="#00ffff"/>
<path d="M395.3 2331.5L409.9 2358.0H380.7Z" fill="#00ffff"/>
<path d="M401.2 2297.2L415.8 2323.7H386.6Z" fill="#00ffff"/>
<path d="M410.8 2254.0L425.4 2280.5H396.2Z" fill="#00ffff"/>
<path d="M426.3 2200.1L440.9 2226.6H411.7Z" fill="#00ffff"/>
<path d="M450.0 2133.1L464.6 2159.6H435.4Z" fill="#00ffff"/>
<path d="M486.4 2059.4L501.0 2085.9H471.8Z" fill="#00ffff"/>
<path d="M537.7 1979.1L552.3 2005.6H523.1Z" fill="#00ffff"/>
<path d="M609.5 1904.6L624.1 1931.1H594.9Z" fill="#00ffff"/>
<path d="M699.8 1845.1L714.4 1871.6H685.2Z" fill="#00ffff"/>
<path d="M806.8 1817.1L821.4 1843.6H792.2Z" fill="#00ffff"/>
<path d="M912.7 1827.3L927.3 1853.8H898.1Z" fill="#00ffff"/>
<path d="M1007.8 1870.5L1022.4 1897.0H993.2Z" fill="#00ffff"/>
<path d="M1089.8 1937.6L1104.4 1964.1H1075.2Z" fill="#00ffff"/>
<path d="M1154.0 2007.6L1168.6 2034.1H1139.4Z" fill="#00ffff"/>
<path d="M1198.4 2069.5L1213.0 2096.0H1183.8Z" fill="#00ffff"/>
<path d="M1225.8 2132.6L1240.4 2159.1H1211.2Z" fill="#00ffff"/>
<path d="M1259.0 2188.1L1273.6 2214.6H1244.4Z" fill="#00ffff"/>
<path d="M1277.0 2225.0L1291.6 2251.5H1262.4Z" fill="#00ffff"/>
<path d="M1290.0 2250.6L1304.6 2277.1H1275.4Z" fill="#00ffff"/>
<path d="M1305.0 2267.6L1319.6 2294.1H1290.4Z" fill="#00ffff"/>
<path d="M1331.0 2281.6L1345.6 2308.1H1316.4Z" fill="#00ffff"/>
<path d="M1347.0 2292.6L1361.6 2319.1H1332.4Z" fill="#00ffff"/>
<path d="M1362.0 2300.6L1376.6 2327.1H1347.4Z" fill="#00ffff"/>
<path d="M1380.0 2290.6L1394.6 2317.1H1365.4Z" fill="#00ffff"/>
<path d="M1395.0 2278.6L1409.6 2305.1H1380.4Z" fill="#00ffff"/>
<path d="M382.7 2457.5L383.4 2451.5L384.3 2438.5L385.3 2425.5L386.0 2410.5L387.2 2393.5L389.8 2374.2L394.3 2348.4L400.2 2314.1L409.8 2270.9L425.3 2217.0L449.0 2150.0L485.4 2076.3L536.7 1996.0L608.5 1918.0L697.8 1856.0L804.8 1828.0L916.7 1838.2L1013.8 1878.9L1095.8 1942.0L1162.0 2018.0L1200.4 2085.9L1232.8 2140.0L1255.0 2211.5L1286.0 2247.4L1286.0 2274.0L1298.0 2290.0L1318.0 2305.0L1336.0 2336.0L1352.0 2316.0L1368.0 2310.0L1386.0 2331.0L1395.0 2318.0" fill="none" stroke="#00ff00" stroke-width="7.2" stroke-linejoin="round"/>
<path d="M382.7 2474.9L397.3 2448.4H368.1Z" fill="#00ff00"/>
<path d="M383.4 2468.9L398.0 2442.4H368.8Z" fill="#00ff00"/>
<path d="M384.3 2455.9L398.9 2429.4H369.7Z" fill="#00ff00"/>
<path d="M385.3 2442.9L399.9 2416.4H370.7Z" fill="#00ff00"/>
<path d="M386.0 2427.9L400.6 2401.4H371.4Z" fill="#00ff00"/>
<path d="M387.2 2410.9L401.8 2384.4H372.6Z" fill="#00ff00"/>
<path d="M389.8 2391.6L404.4 2365.1H375.2Z" fill="#00ff00"/>
<path d="M394.3 2365.8L408.9 2339.3H379.7Z" fill="#00ff00"/>
<path d="M400.2 2331.5L414.8 2305.0H385.6Z" fill="#00ff00"/>
<path d="M409.8 2288.3L424.4 2261.8H395.2Z" fill="#00ff00"/>
<path d="M425.3 2234.4L439.9 2207.9H410.7Z" fill="#00ff00"/>
<path d="M449.0 2167.4L463.6 2140.9H434.4Z" fill="#00ff00"/>
<path d="M485.4 2093.7L500.0 2067.2H470.8Z" fill="#00ff00"/>
<path d="M536.7 2013.4L551.3 1986.9H522.1Z" fill="#00ff00"/>
<path d="M608.5 1935.4L623.1 1908.9H593.9Z" fill="#00ff00"/>
<path d="M697.8 1873.4L712.4 1846.9H683.2Z" fill="#00ff00"/>
<path d="M804.8 1845.4L819.4 1818.9H790.2Z" fill="#00ff00"/>
<path d="M916.7 1855.6L931.3 1829.1H902.1Z" fill="#00ff00"/>
<path d="M1013.8 1896.3L1028.4 1869.8H999.2Z" fill="#00ff00"/>
<path d="M1095.8 1959.4L1110.4 1932.9H1081.2Z" fill="#00ff00"/>
<path d="M1162.0 2035.4L1176.6 2008.9H1147.4Z" fill="#00ff00"/>
<path d="M1200.4 2103.3L1215.0 2076.8H1185.8Z" fill="#00ff00"/>
<path d="M1232.8 2157.4L1247.4 2130.9H1218.2Z" fill="#00ff00"/>
<path d="M1255.0 2228.9L1269.6 2202.4H1240.4Z" fill="#00ff00"/>
<path d="M1286.0 2264.8L1300.6 2238.3H1271.4Z" fill="#00ff00"/>
<path d="M1286.0 2291.4L1300.6 2264.9H1271.4Z" fill="#00ff00"/>
<path d="M1298.0 2307.4L1312.6 2280.9H1283.4Z" fill="#00ff00"/>
<path d="M1318.0 2322.4L1332.6 2295.9H1303.4Z" fill="#00ff00"/>
<path d="M1336.0 2353.4L1350.6 2326.9H1321.4Z" fill="#00ff00"/>
<path d="M1352.0 2333.4L1366.6 2306.9H1337.4Z" fill="#00ff00"/>
<path d="M1368.0 2327.4L1382.6 2300.9H1353.4Z" fill="#00ff00"/>
<path d="M1386.0 2348.4L1400.6 2321.9H1371.4Z" fill="#00ff00"/>
<path d="M1395.0 2335.4L1409.6 2308.9H1380.4Z" fill="#00ff00"/>
<path d="M384.2 2457.0L384.9 2451.0L385.8 2438.0L386.8 2425.0L387.5 2410.0L388.7 2393.0L391.3 2373.7L395.8 2347.9L401.7 2313.6L411.3 2270.4L426.8 2216.5L450.5 2149.5L486.9 2075.8L538.2 1995.5L610.5 1919.0L700.8 1858.0L807.8 1830.0L914.7 1840.2L1013.8 1880.9L1096.8 1954.0L1159.0 2022.0L1197.4 2094.9L1231.8 2142.0L1262.0 2203.5L1284.0 2250.4L1284.0 2279.0L1293.2 2297.6L1310.0 2315.9L1326.7 2323.5L1342.0 2332.7L1364.9 2337.2L1392.3 2317.4" fill="none" stroke="#008000" stroke-width="7.2" stroke-linejoin="round"/>
<path d="M384.2 2440.8L398.2 2457.0L384.2 2473.2L370.2 2457.0Z" fill="#008000"/>
<path d="M384.9 2434.8L398.9 2451.0L384.9 2467.2L370.9 2451.0Z" fill="#008000"/>
<path d="M385.8 2421.8L399.8 2438.0L385.8 2454.2L371.8 2438.0Z" fill="#008000"/>
<path d="M386.8 2408.8L400.8 2425.0L386.8 2441.2L372.8 2425.0Z" fill="#008000"/>
<path d="M387.5 2393.8L401.5 2410.0L387.5 2426.2L373.5 2410.0Z" fill="#008000"/>
<path d="M388.7 2376.8L402.7 2393.0L388.7 2409.2L374.7 2393.0Z" fill="#008000"/>
<path d="M391.3 2357.5L405.3 2373.7L391.3 2389.9L377.3 2373.7Z" fill="#008000"/>
<path d="M395.8 2331.7L409.8 2347.9L395.8 2364.1L381.8 2347.9Z" fill="#008000"/>
<path d="M401.7 2297.4L415.7 2313.6L401.7 2329.8L387.7 2313.6Z" fill="#008000"/>
<path d="M411.3 2254.2L425.3 2270.4L411.3 2286.6L397.3 2270.4Z" fill="#008000"/>
<path d="M426.8 2200.3L440.8 2216.5L426.8 2232.7L412.8 2216.5Z" fill="#008000"/>
<path d="M450.5 2133.3L464.5 2149.5L450.5 2165.7L436.5 2149.5Z" fill="#008000"/>
<path d="M486.9 2059.6L500.9 2075.8L486.9 2092.0L472.9 2075.8Z" fill="#008000"/>
<path d="M538.2 1979.3L552.2 1995.5L538.2 2011.7L524.2 1995.5Z" fill="#008000"/>
<path d="M610.5 1902.8L624.5 1919.0L610.5 1935.2L596.5 1919.0Z" fill="#008000"/>
<path d="M700.8 1841.8L714.8 1858.0L700.8 1874.2L686.8 1858.0Z" fill="#008000"/>
<path d="M807.8 1813.8L821.8 1830.0L807.8 1846.2L793.8 1830.0Z" fill="#008000"/>
<path d="M914.7 1824.0L928.7 1840.2L914.7 1856.4L900.7 1840.2Z" fill="#008000"/>
<path d="M1013.8 1864.7L1027.8 1880.9L1013.8 1897.1L999.8 1880.9Z" fill="#008000"/>
<path d="M1096.8 1937.8L1110.8 1954.0L1096.8 1970.2L1082.8 1954.0Z" fill="#008000"/>
<path d="M1159.0 2005.8L1173.0 2022.0L1159.0 2038.2L1145.0 2022.0Z" fill="#008000"/>
<path d="M1197.4 2078.7L1211.4 2094.9L1197.4 2111.1L1183.4 2094.9Z" fill="#008000"/>
<path d="M1231.8 2125.8L1245.8 2142.0L1231.8 2158.2L1217.8 2142.0Z" fill="#008000"/>
<path d="M1262.0 2187.3L1276.0 2203.5L1262.0 2219.7L1248.0 2203.5Z" fill="#008000"/>
<path d="M1284.0 2234.2L1298.0 2250.4L1284.0 2266.6L1270.0 2250.4Z" fill="#008000"/>
<path d="M1284.0 2262.8L1298.0 2279.0L1284.0 2295.2L1270.0 2279.0Z" fill="#008000"/>
<path d="M1293.2 2281.4L1307.2 2297.6L1293.2 2313.8L1279.2 2297.6Z" fill="#008000"/>
<path d="M1310.0 2299.7L1324.0 2315.9L1310.0 2332.1L1296.0 2315.9Z" fill="#008000"/>
<path d="M1326.7 2307.3L1340.7 2323.5L1326.7 2339.7L1312.7 2323.5Z" fill="#008000"/>
<path d="M1342.0 2316.5L1356.0 2332.7L1342.0 2348.9L1328.0 2332.7Z" fill="#008000"/>
<path d="M1364.9 2321.0L1378.9 2337.2L1364.9 2353.4L1350.9 2337.2Z" fill="#008000"/>
<path d="M1392.3 2301.2L1406.3 2317.4L1392.3 2333.6L1378.3 2317.4Z" fill="#008000"/>
</g>
<rect x="344.0" y="1451.0" width="1392.2" height="1007.5" fill="none" stroke="#000" stroke-width="7.8"/>
<path d="M330.5 2364.5H344.0M319.0 2263.0H344.0M330.5 2161.4H344.0M319.0 2059.9H344.0M330.5 1958.4H344.0M319.0 1856.9H344.0M330.5 1755.4H344.0M319.0 1653.8H344.0M330.5 1552.3H344.0M319.0 1450.8H344.0M360.5 2458.5V2482.8M498.4 2458.5V2474M636.2 2458.5V2482.8M774.0 2458.5V2474M911.9 2458.5V2482.8M1049.8 2458.5V2474M1187.6 2458.5V2482.8M1325.5 2458.5V2474M1463.3 2458.5V2482.8M1601.2 2458.5V2474M1739.0 2458.5V2482.8" stroke="#000" stroke-width="7.8" fill="none"/>
<text transform="translate(304.4 2282.2) scale(1 1.08)" text-anchor="end" font-family='"Liberation Sans", Arial, Helvetica, sans-serif' font-weight="700" font-size="70" stroke="#fff" stroke-width="1.3">3</text>
<text transform="translate(304.4 2079.1) scale(1 1.08)" text-anchor="end" font-family='"Liberation Sans", Arial, Helvetica, sans-serif' font-weight="700" font-size="70" stroke="#fff" stroke-width="1.3">6</text>
<text transform="translate(304.4 1876.1) scale(1 1.08)" text-anchor="end" font-family='"Liberation Sans", Arial, Helvetica, sans-serif' font-weight="700" font-size="70" stroke="#fff" stroke-width="1.3">9</text>
<text transform="translate(304.4 1673.0) scale(1 1.08)" text-anchor="end" font-family='"Liberation Sans", Arial, Helvetica, sans-serif' font-weight="700" font-size="70" stroke="#fff" stroke-width="1.3">12</text>
<text transform="translate(304.4 1470.0) scale(1 1.08)" text-anchor="end" font-family='"Liberation Sans", Arial, Helvetica, sans-serif' font-weight="700" font-size="70" stroke="#fff" stroke-width="1.3">15</text>
<text transform="translate(359.0 2543.0) scale(1 1.04)" text-anchor="middle" font-family='"Liberation Sans", Arial, Helvetica, sans-serif' font-weight="700" font-size="70">0</text>
<text transform="translate(634.7 2543.0) scale(1 1.04)" text-anchor="middle" font-family='"Liberation Sans", Arial, Helvetica, sans-serif' font-weight="700" font-size="70">3</text>
<text transform="translate(910.4 2543.0) scale(1 1.04)" text-anchor="middle" font-family='"Liberation Sans", Arial, Helvetica, sans-serif' font-weight="700" font-size="70">6</text>
<text transform="translate(1186.1 2543.0) scale(1 1.04)" text-anchor="middle" font-family='"Liberation Sans", Arial, Helvetica, sans-serif' font-weight="700" font-size="70">9</text>
<text transform="translate(1461.8 2543.0) scale(1 1.04)" text-anchor="middle" font-family='"Liberation Sans", Arial, Helvetica, sans-serif' font-weight="700" font-size="70">12</text>
<text transform="translate(1737.5 2543.0) scale(1 1.04)" text-anchor="middle" font-family='"Liberation Sans", Arial, Helvetica, sans-serif' font-weight="700" font-size="70">15</text>
<text transform="translate(934.0 2649.5) scale(1 1.04)" text-anchor="start" font-family='"Liberation Sans", Arial, Helvetica, sans-serif' font-weight="700" font-size="77" stroke="#000" stroke-width="1.4">Z' <tspan dx="4" stroke="none">(</tspan>K<tspan font-family='"Liberation Serif", "Times New Roman", Times, serif' font-weight="400" font-size="75" stroke="none" dx="1" textLength="67" lengthAdjust="spacingAndGlyphs">Ω</tspan><tspan dx="0" stroke="none">)</tspan></text>
<text transform="translate(184.3 2148.0) rotate(-90) scale(1 1.04)" text-anchor="start" font-family='"Liberation Sans", Arial, Helvetica, sans-serif' font-weight="700" font-size="82" stroke="#000" stroke-width="0.5">-Z"<tspan dx="-4.5">(K</tspan><tspan font-family='"Liberation Serif", "Times New Roman", Times, serif' font-weight="400" font-size="78.5" dx="-2" stroke="none" textLength="65" lengthAdjust="spacingAndGlyphs">Ω</tspan><tspan dx="-3">)</tspan></text>
<g font-family='"Liberation Sans", Arial, Helvetica, sans-serif' font-weight="700"><text transform="translate(363.5 1669.5) scale(0.85 1)" font-size="119.5">(</text><text transform="translate(403 1671.3) scale(0.95 1)" font-size="119">b</text><text transform="translate(477.1 1669.5) scale(0.85 1)" font-size="119.5">)</text></g>
<path d="M1272 1525.0H1362.3" stroke="#00008b" stroke-width="9" stroke-linecap="round"/>
<rect x="1306.3" y="1514.5" width="21.0" height="21.0" fill="#00008b"/>
<text transform="translate(1379.0 1536.3)" text-anchor="start" font-family='"Liberation Sans", Arial, Helvetica, sans-serif' font-weight="700" font-size="59.5" stroke="#fff" stroke-width="1">Sensor 1</text>
<path d="M1272 1600.7H1362.3" stroke="#0000ff" stroke-width="9" stroke-linecap="round"/>
<circle cx="1316.8" cy="1600.7" r="11.5" fill="#0000ff"/>
<text transform="translate(1379.0 1612.0)" text-anchor="start" font-family='"Liberation Sans", Arial, Helvetica, sans-serif' font-weight="700" font-size="59.5" stroke="#fff" stroke-width="1">Sensor 1</text>
<path d="M1272 1676.4H1362.3" stroke="#00ffff" stroke-width="9" stroke-linecap="round"/>
<path d="M1316.8 1656.6L1333.4 1686.7H1300.2Z" fill="#00ffff"/>
<text transform="translate(1379.0 1687.7)" text-anchor="start" font-family='"Liberation Sans", Arial, Helvetica, sans-serif' font-weight="700" font-size="59.5" stroke="#fff" stroke-width="1">Sensor 1</text>
<path d="M1272 1752.1H1362.3" stroke="#00ff00" stroke-width="9" stroke-linecap="round"/>
<path d="M1316.8 1771.9L1333.4 1741.8H1300.2Z" fill="#00ff00"/>
<text transform="translate(1379.0 1763.4)" text-anchor="start" font-family='"Liberation Sans", Arial, Helvetica, sans-serif' font-weight="700" font-size="59.5" stroke="#fff" stroke-width="1">Sensor 1</text>
<path d="M1272 1827.8H1362.3" stroke="#008000" stroke-width="9" stroke-linecap="round"/>
<path d="M1316.8 1811.6L1330.8 1827.8L1316.8 1844.0L1302.8 1827.8Z" fill="#008000"/>
<text transform="translate(1379.0 1839.1)" text-anchor="start" font-family='"Liberation Sans", Arial, Helvetica, sans-serif' font-weight="700" font-size="59.5" stroke="#fff" stroke-width="1">Sensor 1</text>
</g>
</svg>
</body>
</html>
